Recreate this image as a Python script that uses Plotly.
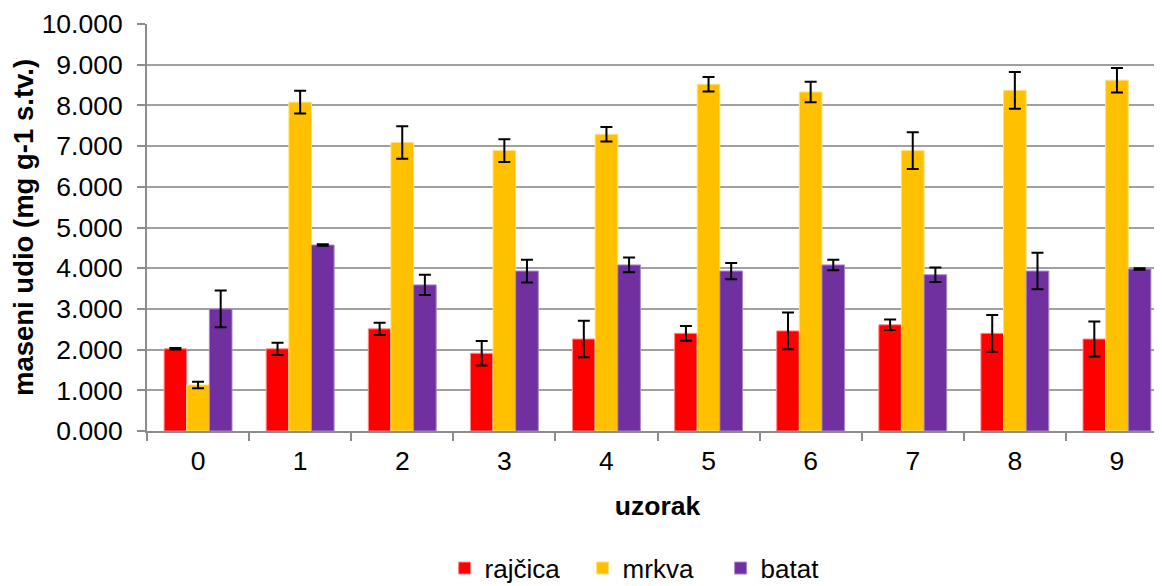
import plotly.graph_objects as go

categories = ["0", "1", "2", "3", "4", "5", "6", "7", "8", "9"]

rajcica = [2.02, 2.02, 2.51, 1.91, 2.26, 2.40, 2.46, 2.61, 2.40, 2.26]
rajcica_err = [0.02, 0.15, 0.15, 0.30, 0.45, 0.18, 0.45, 0.13, 0.45, 0.43]

mrkva = [1.13, 8.08, 7.09, 6.89, 7.29, 8.52, 8.33, 6.89, 8.37, 8.62]
mrkva_err = [0.08, 0.28, 0.40, 0.28, 0.18, 0.18, 0.25, 0.45, 0.45, 0.30]

batat = [3.00, 4.57, 3.59, 3.93, 4.08, 3.93, 4.08, 3.84, 3.93, 3.98]
batat_err = [0.45, 0.02, 0.25, 0.28, 0.18, 0.20, 0.13, 0.18, 0.45, 0.02]

series_names = ["rajčica", "mrkva", "batat"]

FONT = "Liberation Sans, Arial, sans-serif"

fig = go.Figure()
specs = [
    (series_names[0], rajcica, rajcica_err, "#FF0000", "#FF8C8C"),
    (series_names[1], mrkva, mrkva_err, "#FFC000", "#FFE080"),
    (series_names[2], batat, batat_err, "#7030A0", "#A888C8"),
]
for name, vals, errs, col, edge in specs:
    fig.add_trace(go.Bar(
        x=categories, y=vals, name=name,
        marker=dict(color=col, line=dict(color=edge, width=1)),
        error_y=dict(type="data", array=errs, visible=True,
                     color="black", thickness=2, width=6),
    ))

fig.update_layout(
    width=1170, height=600,
    margin=dict(l=139, r=10, t=16, b=177),
    paper_bgcolor="white", plot_bgcolor="white",
    barmode="group", bargap=0.335, bargroupgap=0,
    font=dict(family=FONT, size=26, color="black"),
    showlegend=True,
    legend=dict(orientation="h", x=0.2915, xanchor="left", y=-0.337,
                yanchor="middle", font=dict(size=26), traceorder="normal",
                entrywidth=93, entrywidthmode="pixels"),
)
fig.update_xaxes(
    type="category", showline=True, linecolor="#8c8c8c", linewidth=2,
    ticks="outside", tickson="boundaries", ticklen=8, tickcolor="#8c8c8c",
    tickwidth=2, showgrid=False, automargin=False, ticklabelstandoff=5,
    tickfont=dict(size=26.5),
    title=dict(text="<b>uzorak</b>", font=dict(size=26.5), standoff=22),
)
fig.update_yaxes(
    range=[0, 10], dtick=1, tickformat=".3f",
    showline=True, linecolor="#8c8c8c", linewidth=2,
    ticks="outside", ticklen=8, tickcolor="#8c8c8c", tickwidth=2,
    showgrid=True, gridcolor="#a0a0a0", gridwidth=2, zeroline=False,
    automargin=False, ticklabelstandoff=9, tickfont=dict(size=26.5),
    title=dict(text="<b>maseni udio (mg g-1 s.tv.)</b>", font=dict(size=27.5), standoff=6),
)

fig.write_html("out.html")
